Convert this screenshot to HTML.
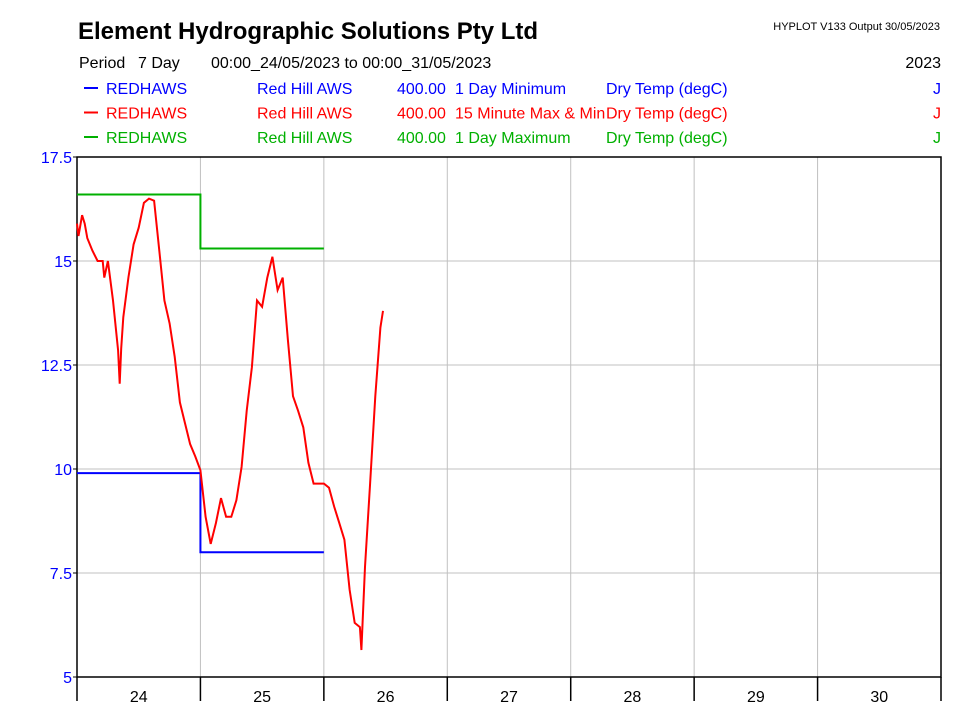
<!DOCTYPE html>
<html><head><meta charset="utf-8"><style>
body{margin:0;background:#fff;}
svg{display:block;font-family:"Liberation Sans",Arial,sans-serif;}
</style></head><body>
<svg id="chart" width="968" height="726" xmlns="http://www.w3.org/2000/svg">
<text x="78" y="39" font-size="24" font-weight="bold">Element Hydrographic Solutions Pty Ltd</text>
<text x="940" y="30" font-size="11" text-anchor="end">HYPLOT V133  Output 30/05/2023</text>
<text x="79" y="68" font-size="16">Period</text>
<text x="138" y="68" font-size="16">7 Day</text>
<text x="211" y="68" font-size="16">00:00_24/05/2023 to 00:00_31/05/2023</text>
<text x="941" y="68" font-size="16" text-anchor="end">2023</text>
<g id="legend"></g>
<g id="grid"></g>
<g id="axes"></g>
<g id="series"></g>
</svg>
<script>
const dayLabels=["24","25","26","27","28","29","30"];
const yTicks=[5,7.5,10,12.5,15,17.5];
const yTickLabels=["5","7.5","10","12.5","15","17.5"];
const dailyMin=[9.9,8.0];
const dailyMax=[16.6,15.3];
const redHours=[0,0.3,1,1.5,2,3,4,5,5.3,6,7,8,8.3,8.6,9,10,11,12,13,14,15,16,17,18,19,20,21,22,23,24,25,26,27,28,29,30,31,32,33,34,35,36,37,38,39,40,41,42,43,44,45,46,47,48,49,50,51,52,53,54,55,55.3,56,57,58,59,59.5];
const redVals=[15.9,15.6,16.1,15.9,15.55,15.25,15.0,15.0,14.6,15.0,14.05,12.85,12.05,12.9,13.65,14.6,15.4,15.8,16.4,16.5,16.45,15.25,14.05,13.5,12.7,11.6,11.1,10.6,10.3,9.97,8.85,8.2,8.7,9.3,8.85,8.85,9.25,10.05,11.4,12.45,14.05,13.9,14.6,15.1,14.3,14.6,13.1,11.75,11.4,11.0,10.15,9.65,9.65,9.65,9.55,9.1,8.7,8.3,7.1,6.3,6.2,5.65,7.65,9.65,11.75,13.4,13.8];
const NS="http://www.w3.org/2000/svg";
const X0=77,X1=941,Y0=677,Y1=157,VMIN=5,VMAX=17.5,HOURS=168;
const xH=h=>X0+(X1-X0)*h/HOURS;
const yV=v=>Y0-(Y0-Y1)*(v-VMIN)/(VMAX-VMIN);
function mk(tag,attrs,parent,txt){const e=document.createElementNS(NS,tag);for(const k in attrs)e.setAttribute(k,attrs[k]);if(txt!=null)e.textContent=txt;parent.appendChild(e);return e;}
const grid=document.getElementById('grid'),axes=document.getElementById('axes'),series=document.getElementById('series'),legend=document.getElementById('legend');
const legRows=[["#0000ff","1 Day Minimum"],["#ff0000","15 Minute Max & Min"],["#00b000","1 Day Maximum"]];
legRows.forEach((r,i)=>{const y=94+i*24.5;
 const g=mk('g',{},legend);
 
 
 mk('line',{x1:84,x2:98,y1:y-6,y2:y-6,stroke:r[0],'stroke-width':2},g);
 mk('text',{x:106,y:y,fill:r[0],'font-size':16},g,"REDHAWS");
 mk('text',{x:257,y:y,fill:r[0],'font-size':16},g,"Red Hill AWS");
 mk('text',{x:397,y:y,fill:r[0],'font-size':16},g,"400.00");
 mk('text',{x:455,y:y,fill:r[0],'font-size':16},g,r[1]);
 mk('text',{x:606,y:y,fill:r[0],'font-size':16},g,"Dry Temp (degC)");
 mk('text',{x:941,y:y,fill:r[0],'font-size':16,'text-anchor':'end'},g,"J");
});
yTicks.forEach((v,i)=>{const y=yV(v);
 if(i>0&&i<yTicks.length-1){const l=mk('line',{x1:X0,x2:X1,y1:y,y2:y,stroke:'#c0c0c0','stroke-width':1},grid);}
 mk('line',{x1:X0-4,x2:X0,y1:y,y2:y,stroke:'#000'},axes);
 const t=mk('text',{x:X0-5,y:y+6,'font-size':16,fill:'#0000ff','text-anchor':'end'},axes,yTickLabels[i]);
 
});
dayLabels.forEach((d,i)=>{const x=xH(i*24);
 if(i>0){const l=mk('line',{x1:x,x2:x,y1:Y1,y2:Y0,stroke:'#c0c0c0'},grid);}
 mk('line',{x1:x,x2:x,y1:Y0,y2:701,stroke:'#000','stroke-width':1.5},axes);
 const t=mk('text',{x:xH(i*24+12),y:702,'font-size':16,'text-anchor':'middle'},axes,d);
 
});
mk('line',{x1:X1,x2:X1,y1:Y0,y2:701,stroke:'#000','stroke-width':1.5},axes);
mk('rect',{x:X0,y:Y1,width:X1-X0,height:Y0-Y1,fill:'none',stroke:'#000','stroke-width':1.5},axes);
function stepPath(vals,color,name){let d='';vals.forEach((v,i)=>{d+=(i?'L':'M')+xH(i*24)+','+yV(v)+'L'+xH((i+1)*24)+','+yV(v);});
 const p=mk('path',{d:d,fill:'none',stroke:color,'stroke-width':2},series);}
stepPath(dailyMax,'#00b000','daily-max-line');
stepPath(dailyMin,'#0000ff','daily-min-line');
let d='';redHours.forEach((h,i)=>{d+=(i?'L':'M')+xH(h).toFixed(1)+','+yV(redVals[i]).toFixed(1);});
const rp=mk('path',{d:d,fill:'none',stroke:'#ff0000','stroke-width':2},series);


</script>
</body></html>
